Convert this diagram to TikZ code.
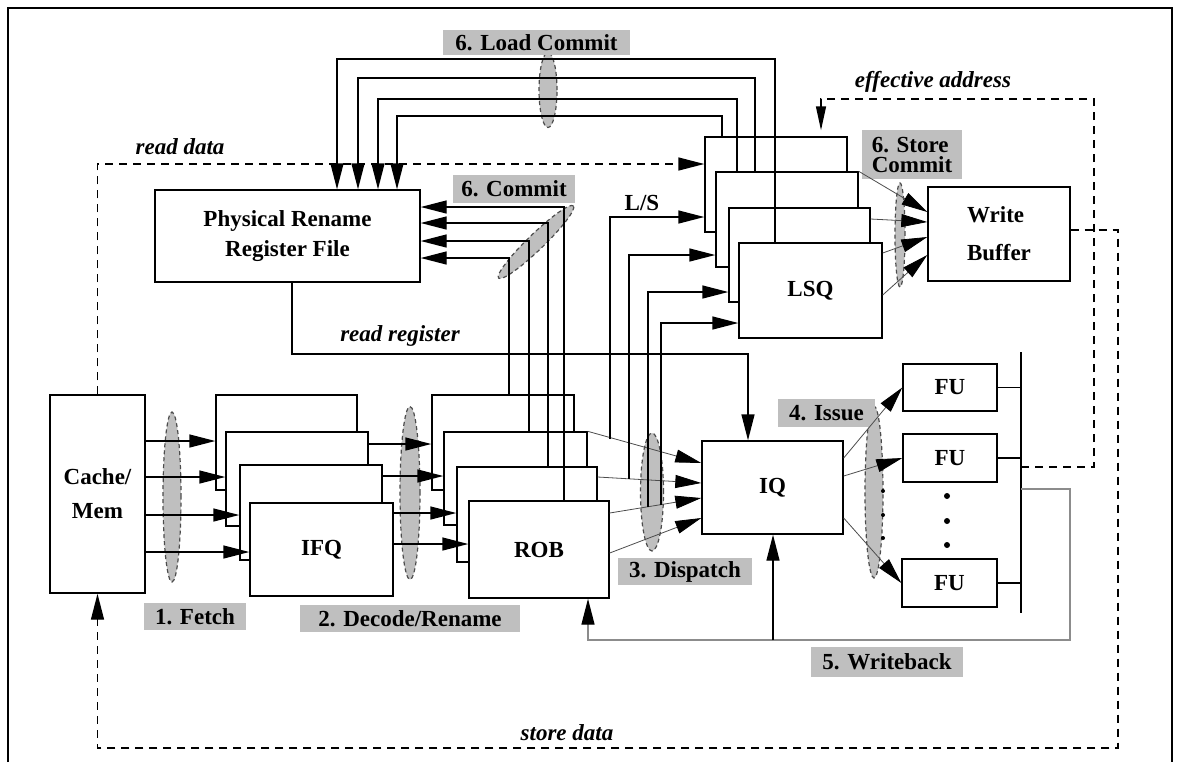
\documentclass[tikz,border=0pt]{standalone}
\usepackage{fontspec}
\setmainfont{Liberation Serif}
\usetikzlibrary{arrows.meta,shapes.geometric,calc}
\newcommand{\blkfont}{\fontsize{11.5}{15}\selectfont\bfseries}

\begin{document}
\begin{tikzpicture}[x=0.5pt, y=-0.5pt,
    blk/.style={draw, fill=white, line width=0.7pt, inner sep=0pt, font=\blkfont},
    stage/.style={fill=black!25, inner sep=0pt, font=\blkfont},
    grp/.style={ellipse, draw=black!70, dash pattern=on 2pt off 1.5pt, fill=black!25, inner sep=0pt, line width=0.6pt},
    arr/.style={line width=0.7pt, -{Triangle[length=13pt,width=6.5pt]}},
    thinarr/.style={line width=0.4pt, draw=black!70, -{Triangle[length=13pt,width=6.5pt,color=black]}},
    dline/.style={dash pattern=on 4pt off 3pt},
    tag/.style={font=\blkfont\itshape}]
    \useasboundingbox (0,0) rectangle (1183,762);
    % frame
    \draw[line width=0.7pt] (8,762) -- (8,8) -- (1172,8) -- (1172,762);
    % groups of signals
    \node[grp, minimum width=9pt, minimum height=37.5pt] (ldgrp) at (548,90) {};
    \node[grp, minimum width=52pt, minimum height=8pt, rotate=44] (cmgrp) at (536,242) {};
    \node[grp, minimum width=5pt, minimum height=52pt] (stgrp) at (900,235) {};
    \node[grp, minimum width=9pt, minimum height=85pt] (ftgrp) at (172,497) {};
    \node[grp, minimum width=10pt, minimum height=86.5pt] (dcgrp) at (410,493) {};
    \node[grp, minimum width=11.5pt, minimum height=59pt] (dsgrp) at (652,492) {};
    \node[grp, minimum width=9pt, minimum height=86pt] (isgrp) at (874,492) {};
    % stage labels
    \node[stage, minimum width=93.5pt, minimum height=12.5pt] (ldc) at (536.5,42.5) {6. Load Commit};
    \node[stage, minimum width=61pt, minimum height=14pt] (cmt) at (514,189) {6. Commit};
    \node[stage, minimum width=50pt, minimum height=24.5pt, align=left] (stc) at (912,154.5) {6. Store\\[-5pt]Commit};
    \node[stage, minimum width=51pt, minimum height=13.5pt] (fetch) at (195,616.5) {1. Fetch};
    \node[stage, minimum width=110pt, minimum height=13.5pt] (decode) at (410,618.5) {2. Decode/Rename};
    \node[stage, minimum width=67pt, minimum height=13.5pt] (disp) at (685,571.5) {3. Dispatch};
    \node[stage, minimum width=48.5pt, minimum height=14pt] (issue) at (826.5,413) {4. Issue};
    \node[stage, minimum width=76pt, minimum height=15pt] (wback) at (887,662) {5. Writeback};
    % blocks
    \node[blk, minimum width=132.5pt, minimum height=46pt, align=center] (prf) at (287.5,236) {Physical Rename\\Register File};
    \node[blk, minimum width=71pt, minimum height=47.5pt] (lsq1) at (776,184.5) {};
    \node[blk, minimum width=71pt, minimum height=47.5pt] (lsq2) at (787,219.5) {};
    \node[blk, minimum width=70.5pt, minimum height=47pt] (lsq3) at (799.5,255) {};
    \node[blk, minimum width=71.5pt, minimum height=47.5pt] (lsq4) at (810.5,290.5) {LSQ};
    \node[blk, minimum width=71pt, minimum height=47pt, align=left] (wb) at (999,234) {Write\\[4pt]Buffer};
    \node[blk, minimum width=47.5pt, minimum height=99pt, align=center] (cache) at (97.5,494) {Cache/\\[2pt]Mem};
    \node[blk, minimum width=70.5pt, minimum height=47.5pt] (ifq1) at (286.5,442.5) {};
    \node[blk, minimum width=71pt, minimum height=47pt] (ifq2) at (297,479) {};
    \node[blk, minimum width=71pt, minimum height=47.5pt] (ifq3) at (311,512.5) {};
    \node[blk, minimum width=71.5pt, minimum height=46.5pt] (ifq4) at (321.5,549.5) {IFQ};
    \node[blk, minimum width=71pt, minimum height=47.5pt] (rob1) at (503,442.5) {};
    \node[blk, minimum width=71.5pt, minimum height=46.5pt] (rob2) at (515.5,478.5) {};
    \node[blk, minimum width=70pt, minimum height=47.5pt] (rob3) at (527,514.5) {};
    \node[blk, minimum width=70pt, minimum height=48.5pt] (rob4) at (539,549.5) {ROB};
    \node[blk, minimum width=70.5pt, minimum height=46.5pt] (iq) at (772.5,487.5) {IQ};
    \node[blk, minimum width=47pt, minimum height=23.5pt] (fu1) at (950,387.5) {FU};
    \node[blk, minimum width=47pt, minimum height=24pt] (fu2) at (950,458) {FU};
    \node[blk, minimum width=47.5pt, minimum height=24pt] (fu3) at (949.5,583) {FU};
    % texts
    \node[tag] (rdlbl) at (180,147) {read data};
    \node[tag] (ealbl) at (933,82) {effective address};
    \node[tag] (rrlbl) at (400,336) {read register};
    \node[tag] (sdlbl) at (567,733) {store data};
    \node[font=\blkfont] (lslbl) at (642,203) {L/S};
    % fetch
    \foreach \y/\dst in {441/ifq1, 477/ifq2, 515/ifq3, 552/ifq4}
        \draw[arr] (cache.east |- 0,\y) -- (\dst.west |- 0,\y);
    % decode / rename
    \foreach \y/\src/\dst in {444/ifq2/rob1, 476/ifq3/rob2, 513/ifq4/rob3, 544/ifq4/rob4}
        \draw[arr] (\src.east |- 0,\y) -- (\dst.west |- 0,\y);
    % dispatch
    \draw[thinarr] (rob2.north east) -- (iq.west |- 0,463);
    \draw[thinarr] (rob3.east |- 0,477) -- (iq.west |- 0,483);
    \draw[thinarr] (rob4.east |- 0,513) -- (iq.west |- 0,498);
    \draw[thinarr] (rob4.east |- 0,553) -- (iq.west |- 0,518);
    % L/S
    \coordinate (ls1) at (610,439);
    \coordinate (ls2) at (629,479);
    \coordinate (ls3) at (648,507);
    \coordinate (ls4) at (661,505);
    \draw[arr] (ls1) |- (lsq1.west |- 0,217);
    \draw[arr] (ls2) |- (lsq2.west |- 0,255);
    \draw[arr] (ls3) |- (lsq3.west |- 0,292);
    \draw[arr] (ls4) |- (lsq4.west |- 0,323);
    % commit
    \foreach \x/\y/\src in {509/258/rob1, 529/241/rob2, 548/223/rob3, 564/207/rob4}
        \draw[arr] (\src.north -| \x,0) |- (prf.east |- 0,\y);
    % load commit
    \draw[arr] (lsq4.north -| 775,0) |- (337,59) -- (prf.north -| 337,0);
    \draw[arr] (lsq2.north -| 755,0) |- (358,78) -- (prf.north -| 358,0);
    \draw[arr] (lsq2.north -| 737,0) |- (378,99) -- (prf.north -| 378,0);
    \draw[arr] (lsq1.north -| 722,0) |- (397,116) -- (prf.north -| 397,0);
    % store commit
    \draw[thinarr] (lsq2.north east) -- (wb.west |- 0,212);
    \draw[thinarr] (lsq3.east |- 0,219) -- (wb.west |- 0,222);
    \draw[thinarr] (lsq4.east |- 0,253) -- (wb.west |- 0,237);
    \draw[thinarr] (lsq4.east |- 0,295) -- (wb.west |- 0,255);
    % issue
    \draw[thinarr] (iq.east |- 0,458) -- (fu1.west);
    \draw[thinarr] (iq.east |- 0,476) -- (fu2.west);
    \draw[thinarr] (iq.east |- 0,518) -- (fu3.west);
    \foreach \y in {491,515,538}
        \fill (883,\y) circle[radius=1pt];
    \foreach \y in {496,521,545}
        \fill (947,\y) circle[radius=1.5pt];
    % result bus
    \coordinate (bustop) at (1021,352);
    \coordinate (busbot) at (1021,613);
    \draw[line width=0.7pt] (bustop) -- (busbot);
    \foreach \f in {fu1,fu2,fu3}
        \draw[line width=0.7pt] (\f.east) -- (\f.east -| bustop);
    % read register
    \draw[arr] (prf.south -| 292,0) -- (292,354) -| (iq.north -| 748,0);
    % read data / store data
    \draw[arr, dline] (cache.north) |- (lsq1.west |- 0,164);
    \draw[arr, dline] (wb.east |- 0,230) -| (1118,748) -| (cache.south);
    % effective address
    \draw[line width=0.7pt, dline, -{Triangle[length=12pt,width=5pt]}, shorten >=3pt] (bustop |- 0,467) -| (1094,99) -| (lsq1.north -| 821,0);
    % writeback
    \coordinate (wbk) at (773,640);
    \draw[line width=0.7pt, draw=black!45, -{Triangle[length=13pt,width=6.5pt,color=black]}] (bustop |- 0,489) -| (1070,640) -| (rob4.south -| 588,0);
    \draw[arr] (wbk) -- (iq.south -| wbk);
\end{tikzpicture}
\end{document}
